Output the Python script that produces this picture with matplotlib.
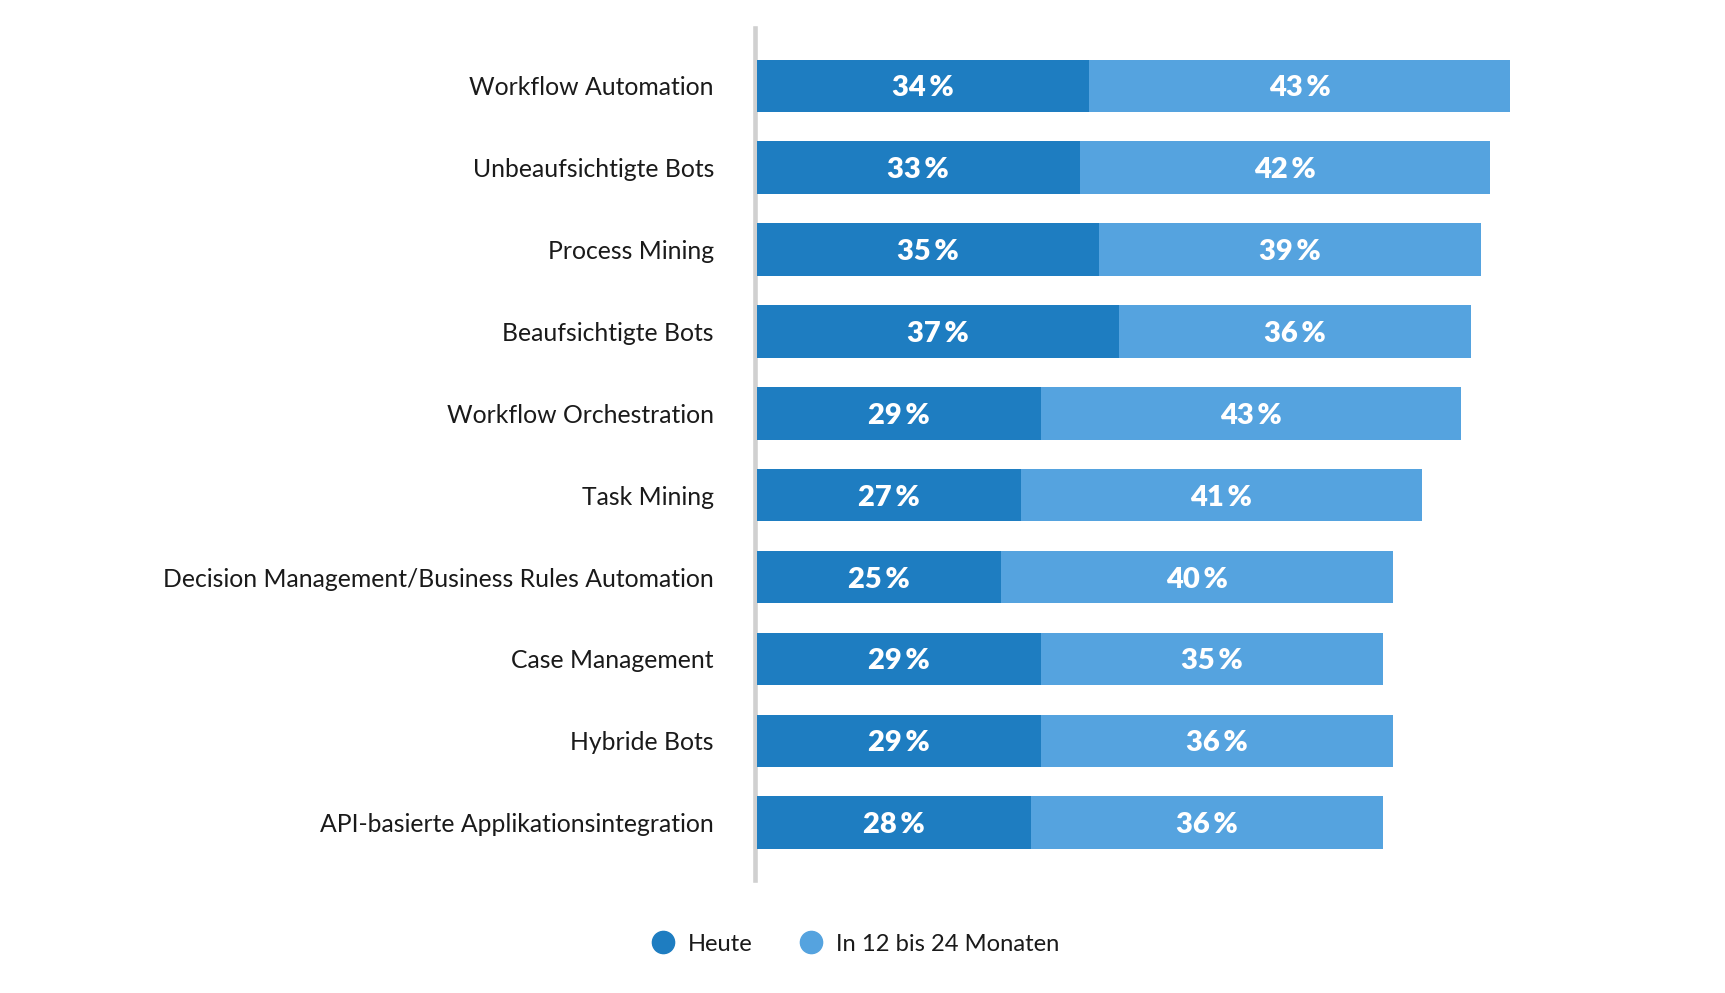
import matplotlib
matplotlib.use("Agg")
import matplotlib.pyplot as plt
from matplotlib.lines import Line2D

categories = [
    "Workflow Automation",
    "Unbeaufsichtigte Bots",
    "Process Mining",
    "Beaufsichtigte Bots",
    "Workflow Orchestration",
    "Task Mining",
    "Decision Management/Business Rules Automation",
    "Case Management",
    "Hybride Bots",
    "API-basierte Applikationsintegration",
]
heute = [34, 33, 35, 37, 29, 27, 25, 29, 29, 28]
zukunft = [43, 42, 39, 36, 43, 41, 40, 35, 36, 36]
series_names = ["Heute", "In 12 bis 24 Monaten"]

c_dark = "#1e7dc1"
c_light = "#55a3df"

plt.rcParams['font.family'] = ['Lato', 'DejaVu Sans']

fig = plt.figure(figsize=(17.25, 9.93), dpi=100)
ax = fig.add_axes([757/1725, 0.1138, 880/1725, 0.8575])

y = list(range(len(categories)))
h = 0.64
ax.barh(y, heute, height=h, color=c_dark, left=0, zorder=2)
ax.barh(y, zukunft, height=h, color=c_light, left=heute, zorder=2)

for i in y:
    ax.text(heute[i] / 2, i + 0.03, f"{heute[i]}\u2009%", ha="center", va="center",
            color="white", fontsize=21, fontweight="heavy", zorder=3)
    ax.text(heute[i] + zukunft[i] / 2, i + 0.03, f"{zukunft[i]}\u2009%", ha="center", va="center",
            color="white", fontsize=21, fontweight="heavy", zorder=3)

ax.set_xlim(0, 90)
ax.set_ylim(9.7, -0.7)
ax.axvline(-0.25, color="#d0d0d0", lw=3.3, zorder=1, clip_on=False)

ax.set_yticks(y)
ax.set_yticklabels(categories, fontsize=17.8, color="#1a1a1a")
ax.tick_params(axis="y", length=0, pad=31)
ax.set_xticks([])
for s in ax.spines.values():
    s.set_visible(False)

handles = [Line2D([], [], marker="o", linestyle="none", markersize=16, color=c)
           for c in (c_dark, c_light)]
fig.legend(handles, series_names, loc="center", bbox_to_anchor=(0.4925, 0.0493),
           ncol=2, frameon=False, fontsize=17.1, handletextpad=0.05, columnspacing=1.45,
           labelcolor="#1a1a1a")

fig.savefig("out.png", dpi=100)
